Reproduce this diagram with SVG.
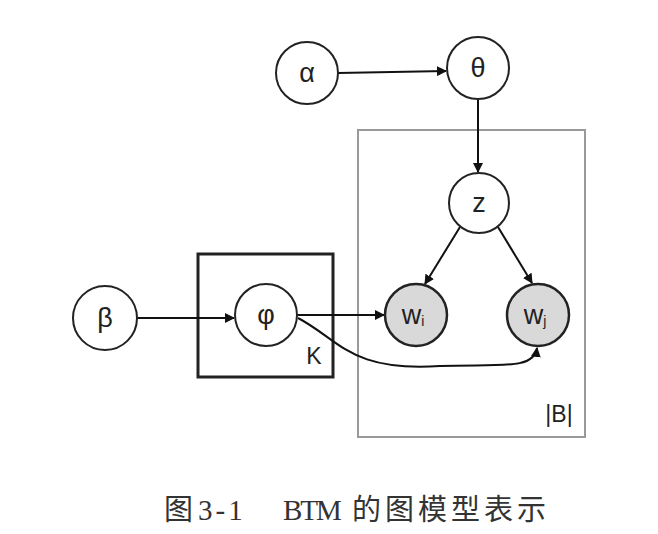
<svg xmlns="http://www.w3.org/2000/svg" width="658" height="534" viewBox="0 0 658 534">
<defs>
<marker id="ah" markerWidth="10" markerHeight="10" refX="9" refY="5" orient="auto" markerUnits="userSpaceOnUse">
<path d="M0,0 L10,5 L0,10 z" fill="#111"/>
</marker>
<style>
.n{fill:#fff;stroke:#222;stroke-width:2}
.o{fill:#d9d9d9;stroke:#222;stroke-width:2.5}
.t{font-family:"Liberation Sans",Arial,sans-serif;font-size:27px;fill:#222;text-anchor:middle;dominant-baseline:central}
.e{fill:none;stroke:#111;stroke-width:2;marker-end:url(#ah)}
.cap{font-family:"Liberation Serif","Noto Sans CJK SC",serif;font-size:29px;fill:#333}
</style>
</defs>
<rect width="658" height="534" fill="#fff"/>
<g id="plate-B"><rect x="358" y="130" width="227" height="307" fill="none" stroke="#999" stroke-width="2"/><text class="t" x="559" y="414" style="font-size:23px">|B|</text></g>
<g id="plate-K"><rect x="198" y="254" width="135" height="123" fill="none" stroke="#222" stroke-width="3"/><text class="t" x="314" y="356" style="font-size:23px">K</text></g>
<g id="connectors">
<line class="e" x1="338" y1="73" x2="446" y2="71"/>
<line class="e" x1="478" y1="99" x2="478" y2="172"/>
<line class="e" x1="460" y1="227" x2="425" y2="284"/>
<line class="e" x1="498" y1="227" x2="532" y2="283"/>
<line class="e" x1="137" y1="318" x2="234" y2="318"/>
<line class="e" x1="297" y1="315" x2="384" y2="315"/>
<path class="e" d="M298,318 C340,340 350,372 440,366 C500,364 534,370 537,348"/>
</g>
<g id="alpha"><circle class="n" cx="307" cy="73" r="31"/><text class="t" x="307" y="73">α</text></g>
<g id="theta"><circle class="n" cx="478" cy="68" r="31" stroke-width="3"/><text class="t" x="478" y="68">θ</text></g>
<g id="z"><circle class="n" cx="479" cy="203" r="30"/><text class="t" x="479" y="203">z</text></g>
<g id="beta"><circle class="n" cx="105" cy="318" r="32"/><text class="t" x="105" y="318">β</text></g>
<g id="phi"><circle class="n" cx="266" cy="315" r="31"/><text class="t" x="266" y="315">φ</text></g>
<g id="wi"><circle class="o" cx="416" cy="315" r="31"/><text class="t" x="413" y="315">w<tspan style="font-size:14px" dy="6">i</tspan></text></g>
<g id="wj"><circle class="o" cx="538" cy="315" r="31"/><text class="t" x="535" y="315">w<tspan style="font-size:14px" dy="6">j</tspan></text></g>
<text class="cap" y="520"><tspan x="164">图</tspan><tspan x="198" style="letter-spacing:3px">3-1</tspan><tspan x="283" style="letter-spacing:-2px">BTM</tspan><tspan x="352" style="letter-spacing:4px">的图模型表示</tspan></text>
</svg>
